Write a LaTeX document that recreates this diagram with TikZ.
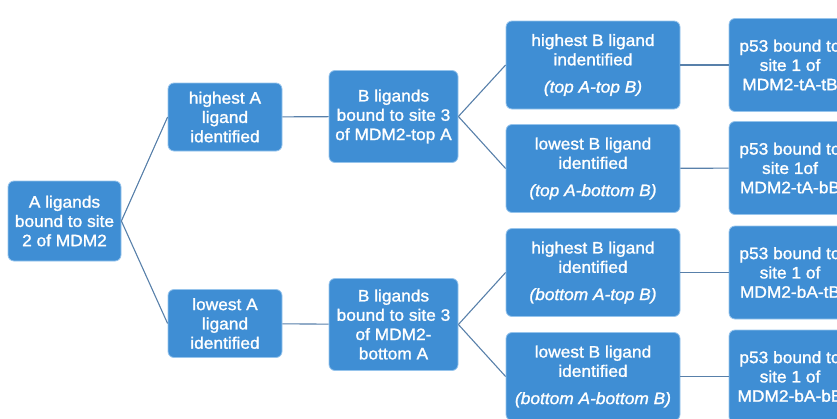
\documentclass[tikz,border=0pt]{standalone}
\usepackage{fontspec}
\newfontfamily\boxfont[FakeStretch=1.05,FakeBold=1.4]{Liberation Sans}
\definecolor{boxblue}{RGB}{63,142,212}
\definecolor{rimblue}{RGB}{150,196,236}
\definecolor{lineblue}{RGB}{88,128,170}
\tikzset{
  box/.style={rectangle, rounded corners=6pt, fill=boxblue, draw=rimblue,
    line width=0.8pt, text=white, align=center, inner sep=1pt,
    font=\boxfont\fontsize{16.5}{19.3}\selectfont},
  rootbox/.style={box, minimum width=113pt, minimum height=80pt},
  abox/.style={box, minimum width=114pt, minimum height=68pt},
  bbox/.style={box, minimum width=129pt, minimum height=92pt},
  cbox/.style={box, minimum width=174pt, minimum height=88pt},
  pbox/.style={box, minimum width=122pt, minimum height=93pt},
  link/.style={draw=lineblue, line width=1.1pt}
}
\begin{document}
\begin{tikzpicture}[x=1pt,y=-1pt]
      \useasboundingbox (0,0) rectangle (837,418);
      \clip (0,0) rectangle (837,418);
      \draw
        (64.5,221) node[rootbox] (root){A ligands\\bound to site\\2 of MDM2}
        (225,117) node[abox] (hiA){highest A\\ligand\\identified}
        (225,323.5) node[abox] (loA){lowest A\\ligand\\identified}
        (393.5,116.5) node[bbox] (tA){B ligands\\bound to site 3\\of MDM2-top A}
        (393.5,324.5) node[bbox] (bA){B ligands\\bound to site 3\\of MDM2-\\bottom A}
        (593,65) node[cbox] (tAtB){highest B ligand\\indentified\\[8pt]\textit{(top A-top B)}}
        (593,168.5) node[cbox] (tAbB){lowest B ligand\\identified\\[8pt]\textit{(top A-bottom B)}}
        (593,272.5) node[cbox] (bAtB){highest B ligand\\identified\\[8pt]\textit{(bottom A-top B)}}
        (593,376.5) node[cbox] (bAbB){lowest B ligand\\identified\\[8pt]\textit{(bottom A-bottom B)}}
        (790,65) node[pbox] (p1){p53 bound to\\site 1 of\\MDM2-tA-tB}
        (790,168) node[pbox] (p2){p53 bound to\\site 1of\\MDM2-tA-bB}
        (790,272.5) node[pbox] (p3){p53 bound to\\site 1 of\\MDM2-bA-tB}
        (790,376.5) node[pbox] (p4){p53 bound to\\site 1 of\\MDM2-bA-bB};
      \begin{scope}[link]
        \draw (root.east) to (hiA.west);
        \draw (root.east) to (loA.west);
        \draw (hiA) to (tA);
        \draw (loA) to (bA);
        \draw (tA.east) to (tAtB.west);
        \draw (tA.east) to (tAbB.west);
        \draw (bA.east) to (bAtB.west);
        \draw (bA.east) to (bAbB.west);
        \draw (tAtB) to (p1);
        \draw (tAbB) to (p2);
        \draw (bAtB) to (p3);
        \draw (bAbB) to (p4);
      \end{scope}
    \end{tikzpicture}
\end{document}
